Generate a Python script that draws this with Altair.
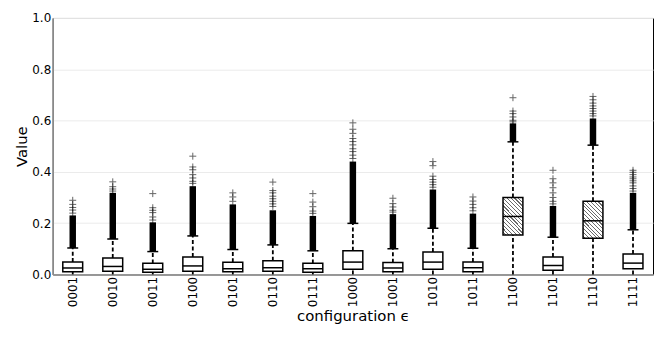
import altair as alt
import pandas as pd

# ---- data ----
configs = ["0001", "0010", "0011", "0100", "0101", "0110", "0111", "1000",
           "1001", "1010", "1011", "1100", "1101", "1110", "1111"]
q1 = [0.010, 0.012, 0.008, 0.012, 0.010, 0.012, 0.008, 0.020,
      0.010, 0.020, 0.010, 0.154, 0.016, 0.141, 0.022]
median = [0.025, 0.031, 0.020, 0.033, 0.022, 0.026, 0.022, 0.048,
          0.025, 0.048, 0.026, 0.226, 0.035, 0.209, 0.044]
q3 = [0.048, 0.064, 0.043, 0.068, 0.047, 0.053, 0.043, 0.092,
      0.046, 0.087, 0.048, 0.300, 0.068, 0.285, 0.080]
whisker_low = [0.0] * 15
whisker_high = [0.103, 0.138, 0.089, 0.150, 0.097, 0.115, 0.092, 0.199,
                0.100, 0.180, 0.102, 0.517, 0.145, 0.504, 0.174]
dense_top = [0.230, 0.318, 0.203, 0.344, 0.273, 0.250, 0.228, 0.440,
             0.235, 0.331, 0.237, 0.589, 0.267, 0.608, 0.318]
hatched = [False] * 11 + [True, False, True, False]

sparse_outliers = {
    "0001": [0.289, 0.273, 0.261, 0.251, 0.239],
    "0010": [0.361, 0.342, 0.333, 0.325],
    "0011": [0.315, 0.260, 0.250, 0.241, 0.224, 0.212],
    "0100": [0.461, 0.419, 0.408, 0.389, 0.376, 0.363, 0.355],
    "0101": [0.318, 0.302, 0.285],
    "0110": [0.360, 0.327, 0.318, 0.305, 0.295, 0.285, 0.275, 0.265],
    "0111": [0.315, 0.282, 0.264, 0.247, 0.238],
    "1000": [0.591, 0.566, 0.550, 0.530, 0.518, 0.505, 0.490, 0.479, 0.465, 0.452],
    "1001": [0.297, 0.276, 0.263, 0.250, 0.243],
    "1010": [0.440, 0.424, 0.383, 0.370, 0.360, 0.350, 0.340],
    "1011": [0.302, 0.286, 0.273, 0.260, 0.248],
    "1100": [0.689, 0.637, 0.627, 0.614, 0.601, 0.595],
    "1101": [0.406, 0.373, 0.357, 0.338, 0.318, 0.300, 0.285, 0.275],
    "1110": [0.694, 0.681, 0.668, 0.657, 0.647, 0.637, 0.627, 0.618],
    "1111": [0.406, 0.398, 0.389, 0.380, 0.373, 0.365, 0.357, 0.345, 0.335, 0.325],
}

y_ticks = [0.0, 0.2, 0.4, 0.6, 0.8, 1.0]

# ---- tables ----
boxes = pd.DataFrame({
    "cfg": configs, "q1": q1, "med": median, "q3": q3,
    "wlo": whisker_low, "whi": whisker_high, "dtop": dense_top, "hatch": hatched,
})
outl = pd.DataFrame(
    [{"cfg": c, "v": v} for c, vals in sparse_outliers.items() for v in vals]
)

x_enc = alt.X("cfg:N", sort=configs,
              scale=alt.Scale(paddingInner=0, paddingOuter=0),
              axis=alt.Axis(title="configuration ϵ", labelAngle=-90,
                            labelFontSize=12, titleFontSize=15,
                            labelPadding=2, titlePadding=2, ticks=False,
                            domainColor="#8c8c8c", domainWidth=1.5,
                            labelColor="black", titleColor="black",
                            titleFontWeight="normal"))
y_scale = alt.Scale(domain=[0, 1], nice=False)
y_axis = alt.Axis(title="Value", values=y_ticks, format=".1f",
                  labelFontSize=12, titleFontSize=15, ticks=False,
                  labelPadding=2, titlePadding=2,
                  grid=True, gridColor="#ebebeb", gridWidth=1,
                  domainColor="#8c8c8c", domainWidth=1.5,
                  labelColor="black", titleColor="black",
                  titleFontWeight="normal")

base = alt.Chart(boxes)

low_whisk = base.mark_rule(color="black", strokeWidth=1.8, strokeDash=[4, 2.5]).encode(
    x=x_enc, y=alt.Y("wlo:Q", scale=y_scale, axis=y_axis), y2="q1:Q")
high_whisk = base.mark_rule(color="black", strokeWidth=1.8, strokeDash=[4, 2.5]).encode(
    x=x_enc, y=alt.Y("q3:Q", scale=y_scale, axis=y_axis), y2="whi:Q")
dense = base.mark_rule(color="black", strokeWidth=6.5).encode(
    x=x_enc, y=alt.Y("whi:Q", scale=y_scale, axis=y_axis), y2="dtop:Q")
cap = base.mark_tick(color="black", size=11, thickness=1.5, opacity=1).encode(
    x=x_enc, y=alt.Y("whi:Q", scale=y_scale, axis=y_axis))

plus = "M-1,0H1M0,-1V1"
points = alt.Chart(outl).mark_point(shape=plus, filled=False, size=49,
                                    color="black", strokeWidth=1,
                                    opacity=0.6).encode(
    x=x_enc, y=alt.Y("v:Q", scale=y_scale, axis=y_axis))

# hatch approximation: hard-edged thin stripes in a linear gradient
stops = [{"offset": 0, "color": "white"}]
n = 15
for i in range(n):
    a = (i + 0.5) / n
    b = a + 0.02
    stops += [{"offset": a, "color": "white"}, {"offset": a, "color": "#6a6a6a"},
              {"offset": b, "color": "#6a6a6a"}, {"offset": b, "color": "white"}]
stops.append({"offset": 1, "color": "white"})
hatch_fill = {"gradient": "linear", "x1": 0, "y1": 1, "x2": 0.645, "y2": -0.193,
              "stops": stops}

box_plain = base.transform_filter("!datum.hatch").mark_bar(
    size=20, fill="white", stroke="black", strokeWidth=1.5).encode(
    x=x_enc, y=alt.Y("q1:Q", scale=y_scale, axis=y_axis), y2="q3:Q")
box_hatch = base.transform_filter("datum.hatch").mark_bar(
    size=20, fill=hatch_fill, stroke="black", strokeWidth=1.5).encode(
    x=x_enc, y=alt.Y("q1:Q", scale=y_scale, axis=y_axis), y2="q3:Q")
med = base.mark_tick(color="black", size=20, thickness=1.5, opacity=1).encode(
    x=x_enc, y=alt.Y("med:Q", scale=y_scale, axis=y_axis))

chart = alt.layer(low_whisk, high_whisk, dense, points, cap, box_plain, box_hatch, med).properties(
    width=604, height=258,
    autosize=alt.AutoSizeParams(type="none"),
    padding={"left": 45, "top": 9, "right": 3, "bottom": 70},
).configure_view(stroke="black", strokeWidth=1).configure_axis(
    labelFont="DejaVu Sans", titleFont="DejaVu Sans"
)

chart.save("out.html", embed_options={"renderer": "svg", "actions": False})
